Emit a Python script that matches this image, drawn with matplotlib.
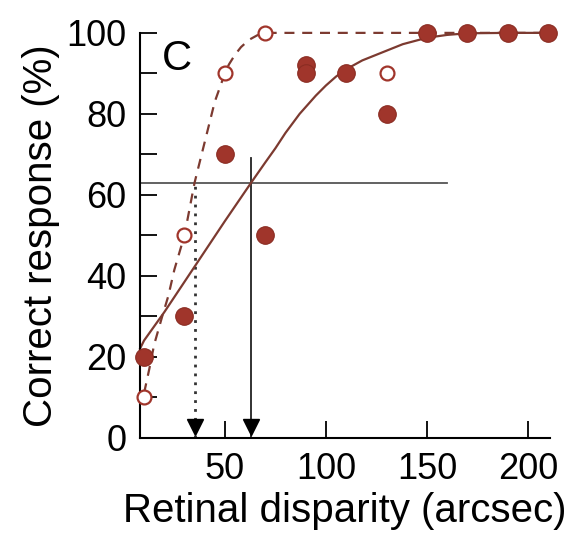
import numpy as np
import matplotlib.pyplot as plt

plt.rcParams['font.family'] = ['Liberation Sans', 'DejaVu Sans']

# filled points (crossed condition)
x_filled = [10, 30, 50, 70, 90, 90, 110, 130, 150, 170, 190, 210]
y_filled = [20, 30, 70, 50, 92, 90, 90, 80, 100, 100, 100, 100]

# open points (uncrossed condition)
x_open = [10, 30, 50, 70, 130]
y_open = [10, 50, 90, 100, 90]

# fitted curves
x_fit_filled = [8, 10, 20, 30, 40, 50, 63, 70, 75, 80, 87, 95, 100, 105, 110, 118, 127,
                138, 150, 160, 170, 190, 210]
y_fit_filled = [22, 24, 31, 38.5, 46, 53.5, 63, 68, 71.5, 75.3, 80, 84.5, 87, 89.2, 91,
                93.2, 95, 97.2, 98.8, 99.5, 99.9, 100, 100]

x_fit_open = [10, 12.6, 15, 19, 22, 25, 30, 35, 40, 45, 50, 52, 55, 58, 62, 66, 70, 90,
              130, 170, 210]
y_fit_open = [11, 17, 23, 30, 35, 41.5, 50, 63, 73, 83, 90, 92.2, 94.6, 96.5, 98.3, 99.4,
              100, 100, 100, 100, 100]

criterion = 63
thr_open = 35
thr_filled = 63
line_top = 69
crit_end = 160

red = '#a0352b'
curve = '#7c3a30'

fig = plt.figure(figsize=(5.81, 5.39), dpi=100)
ax = fig.add_axes([0.241, 0.188, 0.706, 0.751])

ax.plot(x_fit_filled, y_fit_filled, color=curve, lw=1.6, clip_on=False, zorder=2)
ax.plot(x_fit_open, y_fit_open, color=curve, lw=1.6, ls=(0, (4.5, 3.5)), clip_on=False, zorder=2)

ax.plot([x_fit_filled[0], crit_end], [criterion, criterion], color='#555555', lw=1.3, zorder=1)
ax.plot([thr_filled, thr_filled], [0, line_top], color='#222222', lw=1.3, zorder=1)
ax.plot([thr_open, thr_open], [0, line_top - 6], color='#333333', lw=2, ls=(0, (1, 2.2)), zorder=1)
ax.plot([thr_open, thr_filled], [2.6, 2.6], ls='none', marker='v', ms=11, color='black', zorder=3)

ax.scatter(x_filled, y_filled, s=160, color=red, edgecolors='#8a2c22', lw=0.8, clip_on=False, zorder=4)
ax.scatter(x_open, y_open, s=100, facecolors='white', edgecolors=red, lw=1.6, clip_on=False, zorder=4)

ax.text(19, 98.5, 'C', fontsize=30, va='top', ha='left')

ax.set_xlim(8, 211)
ax.set_ylim(0, 100)
ax.set_xticks([50, 100, 150, 200])
ax.set_yticks([0, 20, 40, 60, 80, 100])
ax.set_yticks(np.arange(10, 100, 20), minor=True)
ax.tick_params(axis='both', direction='in', length=12, width=1.3, labelsize=26, pad=10)
ax.tick_params(axis='y', which='minor', direction='in', length=12, width=1.3)
for s in ['top', 'right']:
    ax.spines[s].set_visible(False)
for s in ['left', 'bottom']:
    ax.spines[s].set_linewidth(1.5)

ax.set_xlabel('Retinal disparity (arcsec)', fontsize=29, labelpad=4)
ax.set_ylabel('Correct response (%)', fontsize=29, labelpad=4)

fig.savefig('out.png', dpi=100)
